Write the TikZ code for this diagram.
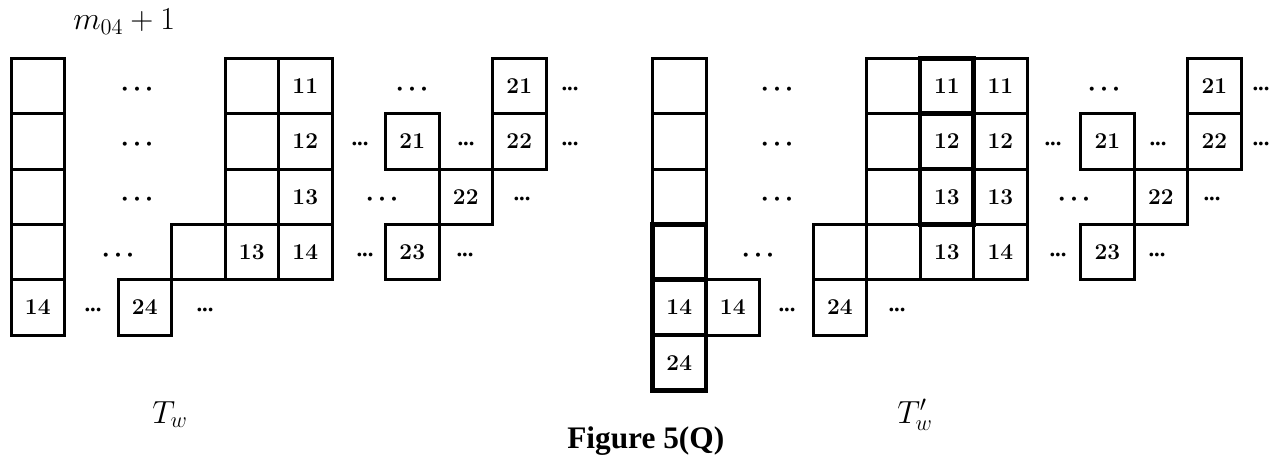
\RequirePackage{fix-cm}
\documentclass[tikz,border=0pt]{standalone}
\usepackage{fontspec}
\newfontfamily\capfont{Liberation Serif}
\newcommand\bx[5][cell]{\node[#1] (#2) at ({\X+(#3+.5)*\U},{\T+(#4+.5)*\V}) {#5};}
\newcommand\sdots{${\bullet}\kern5pt{\bullet}\kern5pt{\bullet}$}
\newcommand\ds[3]{\node[sd] (#1) at (#2,{\T+(#3+.5)*\V+5}) {\sdots};}
\newcommand\dc[3]{\node[cd] (#1) at (#2,{\T+(#3+.5)*\V+4}) {...};}
\begin{document}
\begin{tikzpicture}[x=0.75pt,y=-0.75pt,
  cell/.style={draw,line width=2.25pt,minimum width=40.125pt,minimum height=41.475pt,inner sep=0pt,font=\fontsize{17}{17}\selectfont\bfseries},
  thickcell/.style={cell,line width=3.6pt},
  sd/.style={anchor=base,inner sep=0pt,font=\fontsize{7}{7}\selectfont},
  cd/.style={anchor=base,inner sep=0pt,font=\capfont\fontsize{17}{17}\selectfont\bfseries},
  lbl/.style={anchor=base west,inner sep=0pt}]
\useasboundingbox (0,0) rectangle (1270,456);
\def\U{53.5}\def\V{55.3}\def\T{58.5}
% ---------- left tableau T_w ----------
\def\X{11}
\bx{L00}{0}{0}{}\bx{L10}{0}{1}{}\bx{L20}{0}{2}{}\bx{L30}{0}{3}{}\bx{L40}{0}{4}{14}
\bx{L04}{4}{0}{}\bx{L05}{5}{0}{11}\bx{L09}{9}{0}{21}
\bx{L14}{4}{1}{}\bx{L15}{5}{1}{12}\bx{L17}{7}{1}{21}\bx{L19}{9}{1}{22}
\bx{L24}{4}{2}{}\bx{L25}{5}{2}{13}\bx{L28}{8}{2}{22}
\bx{L33}{3}{3}{}\bx{L34}{4}{3}{13}\bx{L35}{5}{3}{14}\bx{L37}{7}{3}{23}
\bx{L42}{2}{4}{24}
\ds{la0}{137}{0}\ds{la1}{137}{1}\ds{la2}{137}{2}\ds{la3}{118}{3}
\ds{lb0}{412}{0}\dc{lc0}{570}{0}
\dc{lb1}{360}{1}\dc{lc1}{466}{1}\dc{ld1}{570}{1}
\ds{lb2}{382}{2}\dc{lc2}{522}{2}
\dc{lb3}{365}{3}\dc{lc3}{465}{3}
\dc{lb4}{93}{4}\dc{lc4}{205}{4}
% ---------- right tableau T'_w ----------
\def\X{652.5}
\bx{R00}{0}{0}{}\bx{R10}{0}{1}{}\bx{R20}{0}{2}{}
\bx{R04}{4}{0}{}\bx{R06}{6}{0}{11}\bx{R010}{10}{0}{21}
\bx{R14}{4}{1}{}\bx{R16}{6}{1}{12}\bx{R18}{8}{1}{21}\bx{R110}{10}{1}{22}
\bx{R24}{4}{2}{}\bx{R26}{6}{2}{13}\bx{R29}{9}{2}{22}
\bx{R33}{3}{3}{}\bx{R34}{4}{3}{}\bx{R35}{5}{3}{13}\bx{R36}{6}{3}{14}\bx{R38}{8}{3}{23}
\bx{R41}{1}{4}{14}\bx{R43}{3}{4}{24}
\bx[thickcell]{R05}{5}{0}{11}\bx[thickcell]{R15}{5}{1}{12}\bx[thickcell]{R25}{5}{2}{13}
\bx[thickcell]{R30}{0}{3}{}\bx[thickcell]{R40}{0}{4}{14}\bx[thickcell]{R50}{0}{5}{24}
\ds{ra0}{777}{0}\ds{ra1}{777}{1}\ds{ra2}{777}{2}\ds{ra3}{758}{3}
\ds{rb0}{1104}{0}\dc{rc0}{1261}{0}
\dc{rb1}{1053}{1}\dc{rc1}{1158}{1}\dc{rd1}{1261}{1}
\ds{rb2}{1074}{2}\dc{rc2}{1212}{2}
\dc{rb3}{1058}{3}\dc{rc3}{1157}{3}
\dc{rb4}{787}{4}\dc{rc4}{897}{4}
% ---------- labels ----------
\node[lbl,font=\fontsize{24}{24}\selectfont] (m) at (73,29.5) {$m_{04}+1$};
\node[lbl,font=\fontsize{24}{24}\selectfont] (tw) at (152,423) {$T_w$};
\node[lbl,font=\fontsize{24}{24}\selectfont] (twp) at (897,423) {$T'_w$};
\node[lbl,font=\capfont\fontsize{23.5}{24}\selectfont\bfseries] (fig) at (567,448) {Figure 5(Q)};
\end{tikzpicture}
\end{document}
